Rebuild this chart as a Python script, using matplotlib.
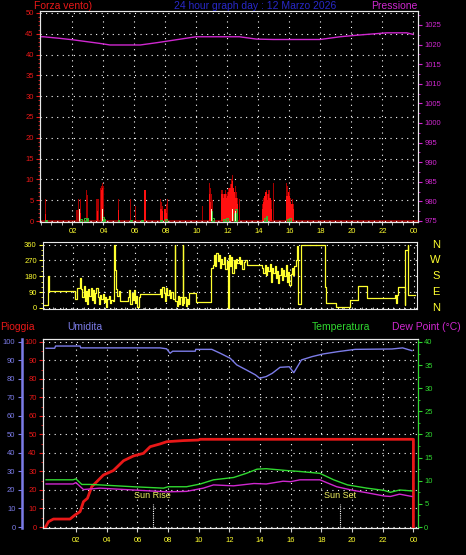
import matplotlib
matplotlib.use("Agg")
import matplotlib.pyplot as plt
import matplotlib.transforms as mtransforms
from matplotlib.ticker import MultipleLocator, FixedLocator

plt.rcParams['font.family'] = ['Liberation Sans', 'DejaVu Sans']

# ---- wind (top panel) ----
gust_hours = [0.26, 0.30, 2.0, 2.3, 2.35, 2.4, 2.52, 2.55, 2.95, 3.0, 3.6, 3.65, 3.72,
              3.85, 3.92, 3.99, 4.03, 4.99, 5.8, 6.08, 6.12, 6.7, 7.7, 7.78, 7.86, 8.0,
              8.1, 8.16, 10.43, 10.85, 10.92, 11.0, 11.05, 11.65, 11.72, 11.8, 11.9,
              11.98, 12.05, 12.12, 12.2, 12.28, 12.37, 12.45, 12.52, 12.6, 12.68, 12.8,
              14.3, 14.38, 14.45, 14.52, 14.6, 14.68, 14.76, 14.85, 15.0, 15.85, 15.92,
              16.0, 16.06, 16.12, 16.2, 16.28]
gust_values = [5.4, 1.8, 1.8, 2.6, 2.6, 5.4, 5.4, 4.5, 7.5, 6.3, 5.4, 5.4, 5.4,
               8.0, 8.3, 9.2, 8.5, 5.4, 5.4, 1.8, 3.6, 7.5, 5.4, 4.5, 3.5, 5.4,
               4.0, 5.4, 3.7, 9.1, 8.0, 6.6, 5.0, 7.5, 7.5, 6.6, 7.5,
               6.5, 7.0, 8.0, 9.0, 10.0, 11.1, 10.0, 8.5, 7.0, 5.5, 5.4,
               4.0, 5.5, 7.5, 7.5, 6.5, 7.5, 7.5, 5.0, 9.1, 9.1, 8.5,
               7.5, 7.5, 5.5, 5.4, 4.0]
avg_hours = [0.30, 2.55, 3.65, 3.92, 3.97, 5.0, 6.7, 7.75, 7.85, 8.0, 8.1, 10.87, 10.93,
             11.65, 11.72, 11.8, 11.88, 11.95, 12.05, 12.12, 12.2, 12.28, 12.35, 12.42,
             12.5, 12.58, 12.65, 14.3, 14.38, 14.45, 14.52, 14.6, 14.68, 14.76, 14.85,
             15.88, 15.95, 16.02, 16.1, 16.18, 16.25]
avg_values = [1.8, 2.0, 2.5, 7.5, 8.0, 2.6, 7.5, 3.0, 2.5, 3.0, 2.0, 6.6, 4.5,
              6.6, 6.6, 5.5, 6.6, 5.5, 6.0, 7.0, 8.0, 9.0, 9.5, 8.0,
              7.0, 5.5, 4.0, 3.0, 4.5, 6.0, 7.0, 5.0, 6.5, 5.5, 3.0,
              6.0, 7.0, 6.0, 4.5, 4.0, 3.0]
low_hours = [0.3, 2.6, 2.82, 3.0, 4.0, 4.08, 5.0, 5.8, 6.5, 7.75, 8.05, 11.0, 11.1,
             11.8, 12.0, 12.5, 12.58, 14.45, 14.55, 15.95, 16.05]
low_values = [0.3, 0.6, 0.8, 0.8, 1.0, 0.5, 0.3, 0.3, 0.3, 0.3, 0.4, 2.5, 0.8,
              0.5, 0.8, 2.0, 3.0, 0.8, 1.2, 0.5, 0.7]
peak_hours = [2.48, 3.97, 11.0, 12.35, 12.55]
peak_values = [3.0, 3.0, 3.0, 3.0, 2.5]

press_hours = [0.0, 0.15, 1.2, 2.1, 3.8, 4.45, 6.4, 7.5, 9.0, 10.0, 12.8, 13.9, 15.0,
               18.0, 19.3, 20.4, 22.3, 23.6, 24.0]
press_values = [1022.0, 1022.0, 1021.6, 1021.2, 1020.3, 1019.9, 1019.9, 1020.5, 1021.4,
                1022.0, 1022.0, 1021.4, 1021.3, 1021.3, 1022.0, 1022.4, 1023.0, 1023.0,
                1022.6]

# ---- wind direction ----
dir_hours = [0.05, 0.38, 0.45, 2.11, 2.25, 2.45, 2.52, 2.6, 2.68, 2.75, 2.82, 2.9, 2.97,
             3.05, 3.12, 3.2, 3.28, 3.35, 3.42, 3.5, 3.58, 3.66, 3.74, 3.82, 3.9, 3.98,
             4.05, 4.12, 4.2, 4.28, 4.36, 4.45, 4.58, 4.63, 4.68, 4.75, 4.85, 4.93, 5.0,
             5.57, 5.63, 5.7, 5.78, 5.85, 5.92, 6.0, 6.08, 6.15, 6.22, 6.3, 7.6, 7.68,
             7.76, 7.84, 7.92, 8.0, 8.08, 8.16, 8.24, 8.32, 8.45, 8.56, 8.6, 8.68, 8.76,
             8.84, 8.92, 9.0, 9.06, 9.1, 9.18, 9.26, 9.34, 9.42, 9.5, 9.96, 10.93, 11.0,
             11.08, 11.16, 11.24, 11.32, 11.4, 11.48, 11.56, 11.64, 11.72, 11.8, 11.9,
             12.0, 12.05, 12.12, 12.2, 12.28, 12.36, 12.44, 12.52, 12.6, 12.68, 12.76,
             12.84, 12.92, 13.0, 13.1, 13.2, 13.3, 14.2, 14.28, 14.36, 14.44, 14.52,
             14.6, 14.68, 14.76, 14.84, 14.92, 15.0, 15.08, 15.16, 15.24, 15.32, 15.4,
             15.48, 15.56, 15.64, 15.72, 15.8, 15.88, 15.96, 16.04, 16.12, 16.2, 16.28,
             16.36, 16.45, 16.52, 16.72, 18.25, 18.3, 18.35, 18.95, 19.87, 20.4, 21.0,
             22.75, 22.83, 22.9, 22.95, 23.4, 23.45, 23.6, 23.65, 24.05]
dir_values = [19, 180, 95, 53, 114, 170, 110, 60, 125, 40, 95, 20, 110,
              70, 115, 45, 100, 30, 85, 115, 60, 20, 75, 50, 80, 35,
              60, 5, 50, 70, 30, 45, 40, 360, 218, 110, 70, 95, 38,
              60, 100, 20, 85, 45, 105, 30, 70, 5, 60, 78, 110, 60,
              120, 85, 40, 115, 75, 100, 55, 90, 50, 360, 40, 10, 70,
              25, 60, 15, 360, 30, 65, 10, 50, 20, 85, 34, 227, 246,
              300, 240, 313, 265, 300, 230, 280, 250, 290, 220, 265,
              0, 300, 240, 290, 200, 270, 230, 280, 255, 290, 250,
              270, 220, 260, 275, 245, 243, 230, 200, 245, 190, 235,
              210, 250, 150, 225, 200, 240, 170, 210, 140, 190, 230,
              160, 215, 180, 245, 150, 205, 130, 195, 225, 190, 240,
              270, 350, 20, 360, 120, 38, 28, 4, 47, 123, 57,
              76, 30, 76, 117, 19, 332, 360, 72, 72]

# ---- rain / humidity / temperature / dew point ----
rain_hours = [0.0, 0.04, 0.2, 0.52, 1.6, 1.93, 2.26, 2.48, 2.74, 3.02, 3.35, 3.78, 4.43,
              5.09, 5.74, 6.39, 6.83, 7.48, 7.91, 9.0, 9.98, 10.1, 24.0, 24.0]
rain_values = [0.0, 0.5, 2.9, 4.3, 4.3, 6.5, 8.3, 13.7, 15.5, 21.8, 24.5, 28.1, 30.5,
               35.8, 38.4, 39.8, 43.4, 44.9, 46.1, 46.7, 47.0, 47.4, 47.4, 0.0]
hum_hours = [0.04, 0.6, 0.66, 2.26, 2.3, 7.48, 7.9, 8.13, 8.3, 8.5, 9.77, 9.8, 10.85, 11.4,
             12.05, 12.48, 13.1, 13.7, 13.97, 14.4, 14.8, 15.3, 15.9, 16.2, 16.7, 17.4,
             18.1, 19.1, 20.2, 22.6, 23.3, 23.9]
hum_values = [96.6, 96.6, 97.8, 97.8, 96.8, 96.8, 96.3, 93.9, 95.0, 95.0, 95.0, 96.0, 96.0,
              93.9, 91.2, 87.6, 84.9, 82.2, 80.4, 81.3, 83.1, 86.3, 86.6, 83.4, 90.3,
              92.1, 93.5, 94.8, 96.0, 96.2, 96.8, 95.3]
temp_hours = [0.04, 1.8, 1.99, 2.37, 2.9, 3.56, 5.74, 7.7, 8.0, 9.2, 10.1, 10.96, 12.27,
              13.1, 13.8, 14.4, 15.75, 16.6, 17.9, 18.8, 19.7, 20.97, 22.1, 22.5, 23.1,
              23.9]
temp_values = [10.2, 10.2, 10.4, 9.2, 9.2, 9.1, 8.7, 8.4, 8.7, 8.7, 9.3, 10.2, 10.7,
               11.6, 12.5, 12.6, 12.2, 12.0, 11.6, 10.2, 9.1, 8.4, 7.9, 7.5, 8.0, 7.8]
dew_hours = [0.04, 1.8, 1.99, 2.48, 3.56, 5.74, 7.91, 9.2, 10.3, 10.96, 12.27, 13.6,
             14.4, 15.5, 16.0, 16.6, 17.9, 19.0, 20.1, 20.97, 22.1, 22.5, 23.1, 23.9]
dew_values = [9.3, 9.3, 9.6, 8.1, 8.4, 8.0, 7.6, 7.7, 8.4, 9.1, 8.9, 9.4,
              9.3, 9.9, 9.8, 10.2, 10.2, 8.7, 7.9, 7.4, 6.7, 6.6, 7.1, 6.6]

hour_ticks = [2, 4, 6, 8, 10, 12, 14, 16, 18, 20, 22, 24]
hour_labels = ['02', '04', '06', '08', '10', '12', '14', '16', '18', '20', '22', '00']
compass = ['N', 'E', 'S', 'W', 'N']
sun_rise, sun_set = 7.0, 19.2

RED = '#e81818'
DARKRED = '#a80000'
MAG = '#d028d0'
YEL = '#ffff30'
BLUE = '#7c7ce8'
GREEN = '#30d830'
dots = (0, (1, 4))

W, H = 466, 555
fig = plt.figure(figsize=(W / 100, H / 100), dpi=100, facecolor='black')


def box(l, t, r, b):
    return [l / W, 1 - b / H, (r - l) / W, (b - t) / H]


def style(ax, edge='#e8e8e8'):
    ax.set_facecolor('black')
    for s in ax.spines.values():
        s.set_color(edge)


# top panel: wind speed + pressure
ax_w = fig.add_axes(box(40, 11, 418, 222))
style(ax_w)
ax_w.set_xlim(-0.065, 24.32)
ax_w.set_ylim(-0.24, 50.48)
ax_w.axhline(0, color=DARKRED, lw=1.2, zorder=1)
ax_w.bar(gust_hours, gust_values, width=0.06, color=DARKRED, zorder=2)
ax_w.bar(avg_hours, avg_values, width=0.09, color='#ff1010', zorder=3)
ax_w.bar(low_hours, low_values, width=0.12, color='none', edgecolor='#30c030',
         linewidth=0.7, zorder=4)
ax_w.bar(peak_hours, peak_values, width=0.04, color='#fff8d0', zorder=5)
ax_w.yaxis.set_major_locator(MultipleLocator(5))
ax_w.yaxis.set_minor_locator(MultipleLocator(1))
ax_w.xaxis.set_major_locator(FixedLocator(hour_ticks))
ax_w.xaxis.set_minor_locator(MultipleLocator(2 / 3))
ax_w.tick_params(axis='y', colors=RED, labelsize=5.5, length=3, width=0.8, pad=1.5)
ax_w.tick_params(axis='y', which='minor', colors=RED, length=1.5)
ax_w.tick_params(axis='x', which='both', colors='#d0d0d0', length=2.5, labelbottom=False)
ax_w.grid(True, color='white', linestyle=dots, linewidth=0.8)

ax_p = ax_w.twinx()
ax_p.set_ylim(974.74, 1028.57)
ax_p.plot(press_hours, press_values, color=MAG, lw=1.0)
ax_p.yaxis.set_minor_locator(MultipleLocator(2.5))
ax_p.set_yticks(range(975, 1030, 5))
ax_p.tick_params(axis='y', colors=MAG, labelsize=5.5, length=3, width=0.8, pad=1.5)
ax_p.tick_params(axis='y', which='minor', colors=MAG, length=1.5)
for s in ax_p.spines.values():
    s.set_color('#e8e8e8')

fig.text(34 / W, 1 - 6 / H, 'Forza vento)', color=RED, fontsize=7.5, va='center')
fig.text(255 / W, 1 - 6 / H, '24 hour graph day : 12 Marzo 2026', color='#2828c8',
         fontsize=7.5, va='center', ha='center')
fig.text(417 / W, 1 - 6 / H, 'Pressione', color=MAG, fontsize=7.5, va='center', ha='right')

# middle panel: wind direction
ax_d = fig.add_axes(box(43, 242, 417, 309))
style(ax_d)
ax_d.set_xlim(0.05, 24.2)
ax_d.set_ylim(-5.7, 375)
ax_d.plot(dir_hours, dir_values, color=YEL, lw=0.9, drawstyle='steps-post')
ax_d.set_yticks([0, 90, 180, 270, 360])
ax_d.yaxis.set_minor_locator(MultipleLocator(30))
ax_d.xaxis.set_major_locator(FixedLocator(hour_ticks))
ax_d.set_xticklabels(hour_labels)
ax_d.xaxis.set_minor_locator(MultipleLocator(2 / 3))
ax_d.tick_params(axis='x', which='both', labeltop=True, labelbottom=False, top=False,
                 bottom=True, direction='in', colors='#d0d0d0', length=1.5,
                 labelsize=5.5, labelcolor=YEL, pad=5)
ax_d.tick_params(axis='y', colors=YEL, labelsize=5.5, length=3, width=0.8, pad=1.5)
ax_d.tick_params(axis='y', which='minor', colors=YEL, length=1.5)
ax_d.grid(True, color='white', linestyle=dots, linewidth=0.8)
trans = mtransforms.blended_transform_factory(ax_d.transAxes, ax_d.transData)
for deg, name in zip([0, 90, 180, 270, 360], compass):
    ax_d.text(1.05, deg, name, transform=trans, color=YEL, fontsize=8,
              ha='center', va='center')

# bottom panel: rain, humidity, temperature, dew point
ax_b = fig.add_axes(box(43, 339, 418, 528))
style(ax_b)
ax_b.set_xlim(-0.16, 24.3)
ax_b.set_ylim(-0.54, 101.6)
ax_b.plot(hum_hours, hum_values, color=BLUE, lw=1.0, zorder=3)
ax_b.plot(rain_hours, rain_values, color=RED, lw=2.0, zorder=4)
ax_b.yaxis.set_major_locator(MultipleLocator(10))
ax_b.yaxis.set_minor_locator(MultipleLocator(5))
ax_b.xaxis.set_major_locator(FixedLocator(hour_ticks))
ax_b.set_xticklabels(hour_labels)
ax_b.tick_params(axis='x', colors='#d0d0d0', labelcolor=YEL, labelsize=5.5, length=3)
ax_b.tick_params(axis='y', colors=RED, labelsize=5.5, length=3, width=0.8, pad=1.5)
ax_b.tick_params(axis='y', which='minor', colors=RED, length=1.5)
ax_b.grid(True, color='white', linestyle=dots, linewidth=0.8)
for h, name in [(sun_rise, 'Sun Rise'), (sun_set, 'Sun Set')]:
    ax_b.plot([h, h], [0, 12.4], color='white', lw=0.8, linestyle=(0, (1, 1)), zorder=2)
    ax_b.text(h, 14.5, name, color='#f0f060', fontsize=6.5, ha='center', va='bottom')

sec = ax_b.secondary_yaxis((21.7 - 43) / 375)
sec.set_yticks(range(0, 101, 10))
sec.tick_params(colors=BLUE, labelsize=5.5, length=3, width=0.8, pad=1.5)
sec.spines['left'].set_color(BLUE)
sec.spines['left'].set_linewidth(1.8)

ax_t = ax_b.twinx()
ax_t.set_ylim(-0.216, 40.64)
ax_t.plot(temp_hours, temp_values, color=GREEN, lw=1.0, zorder=3)
ax_t.plot(dew_hours, dew_values, color=MAG, lw=1.0, zorder=3)
ax_t.yaxis.set_major_locator(MultipleLocator(5))
ax_t.yaxis.set_minor_locator(MultipleLocator(2.5))
ax_t.tick_params(axis='y', colors=GREEN, labelsize=5.5, length=3, width=0.8, pad=1.5)
ax_t.tick_params(axis='y', which='minor', colors=GREEN, length=1.5)
for s in ax_t.spines.values():
    s.set_color('#e8e8e8')
ax_t.spines['right'].set_color(GREEN)

fig.text(0 / W, 1 - 327 / H, 'Pioggia', color=RED, fontsize=7.5, va='center')
fig.text(67 / W, 1 - 327 / H, 'Umidita', color=BLUE, fontsize=7.5, va='center')
fig.text(312 / W, 1 - 327 / H, 'Temperatura', color=GREEN, fontsize=7.5, va='center')
fig.text(392 / W, 1 - 327 / H, 'Dew Point (°C)', color=MAG, fontsize=7.5, va='center')

fig.savefig('out.png', dpi=100, facecolor='black')
